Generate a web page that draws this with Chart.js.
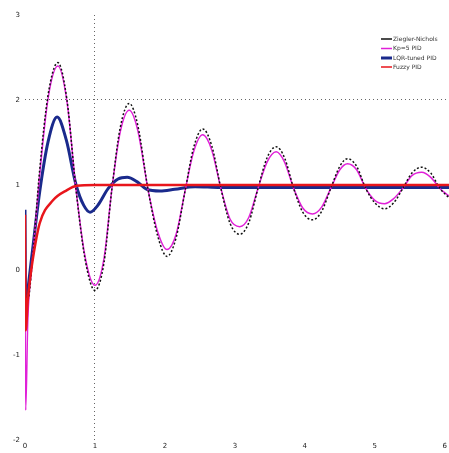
<!DOCTYPE html>
<html>
<head>
<meta charset="utf-8">
<script src="https://cdn.jsdelivr.net/npm/chart.js@4"></script>
<style>
  html, body { margin: 0; padding: 0; background: #fff; }
  #wrap { width: 449px; height: 453px; }
</style>
</head>
<body>
<div id="wrap"><canvas id="chart"></canvas></div>
<script>
// series names (legend)
const seriesNames = ['Ziegler-Nichols', 'Kp=5 PID', 'LQR-tuned PID', 'Fuzzy PID'];

// shared time base for the two oscillating responses
const oscTime = [0, 0.01, 0.04, 0.10, 0.21, 0.33, 0.47, 0.60, 0.73, 0.86, 1.00, 1.13, 1.24, 1.36, 1.49,
  1.61, 1.76, 1.90, 2.03, 2.16, 2.29, 2.41, 2.54, 2.67, 2.80, 2.93, 3.07, 3.20, 3.33, 3.46, 3.59,
  3.71, 3.84, 3.97, 4.11, 4.24, 4.37, 4.50, 4.61, 4.74, 4.87, 5.00, 5.14, 5.27, 5.40, 5.53, 5.67,
  5.80, 5.93, 6.06];

const blackValues = [-0.12, -0.30, -0.35, 0.06, 1.18, 2.06, 2.44, 2.00, 0.94, 0.12, -0.24, 0.09, 0.94, 1.67, 1.96,
  1.71, 0.94, 0.39, 0.16, 0.38, 0.94, 1.44, 1.66, 1.46, 0.96, 0.55, 0.42, 0.56, 0.96, 1.32, 1.45,
  1.32, 0.96, 0.68, 0.59, 0.69, 0.96, 1.22, 1.31, 1.22, 0.96, 0.79, 0.72, 0.79, 0.96, 1.14, 1.21,
  1.14, 0.96, 0.85];

const magentaValues = [-0.18, -1.65, -0.59, 0.06, 1.12, 2.02, 2.40, 1.98, 0.94, 0.15, -0.18, 0.14, 0.94, 1.62, 1.88,
  1.65, 0.94, 0.44, 0.24, 0.42, 0.94, 1.39, 1.59, 1.41, 0.96, 0.60, 0.51, 0.62, 0.96, 1.27, 1.39,
  1.27, 0.96, 0.73, 0.66, 0.74, 0.96, 1.18, 1.25, 1.18, 0.96, 0.82, 0.78, 0.84, 0.96, 1.11, 1.15,
  1.09, 0.96, 0.87];

const blueTime = [0, 0.01, 0.04, 0.10, 0.21, 0.33, 0.46, 0.59, 0.73, 0.84, 0.93, 1.04, 1.19, 1.33, 1.46,
  1.60, 1.74, 1.93, 2.14, 2.43, 2.79, 6.06];
const blueValues = [0.71, -0.47, -0.24, 0.18, 0.92, 1.51, 1.80, 1.53, 1.00, 0.76, 0.68, 0.76, 0.96, 1.07, 1.09,
  1.04, 0.95, 0.93, 0.95, 0.98, 0.97, 0.97];

const redTime = [0, 0.01, 0.04, 0.07, 0.11, 0.21, 0.40, 0.60, 0.74, 1.00, 6.06];
const redValues = [0.65, -0.71, -0.35, -0.12, 0.12, 0.55, 0.82, 0.94, 0.99, 1.00, 1.00];

const yTicks = [-2, -1, 0, 1, 2, 3];
const xTicks = [0, 1, 2, 3, 4, 5, 6];

function pairs(t, v) {
  return t.map((x, i) => ({ x: x, y: v[i] }));
}

const colors = ['#111111', '#e020d8', '#1a2a8c', '#e8151b'];

// legend drawn in the upper right of the plot
const cornerLegend = {
  id: 'cornerLegend',
  afterDraw(chart) {
    const ctx = chart.ctx;
    const rows = [39, 48.5, 58, 67];
    ctx.save();
    ctx.font = '6px "DejaVu Sans"';
    ctx.textBaseline = 'middle';
    chart.data.datasets.forEach((ds, i) => {
      const y = rows[i];
      ctx.strokeStyle = ds.borderColor;
      ctx.lineWidth = i === 2 ? 3 : 1.5;
      ctx.beginPath();
      ctx.moveTo(381, y);
      ctx.lineTo(392, y);
      ctx.stroke();
      ctx.fillStyle = '#333';
      ctx.fillText(ds.label, 393, y);
    });
    ctx.restore();
  }
};

new Chart(document.getElementById('chart'), {
  type: 'line',
  data: {
    datasets: [
      { label: seriesNames[0], data: pairs(oscTime, blackValues), borderColor: colors[0],
        borderWidth: 1.5, borderDash: [2, 2], order: 1 },
      { label: seriesNames[1], data: pairs(oscTime, magentaValues), borderColor: colors[1],
        borderWidth: 1.5, order: 2 },
      { label: seriesNames[2], data: pairs(blueTime, blueValues), borderColor: colors[2],
        borderWidth: 3, order: 3 },
      { label: seriesNames[3], data: pairs(redTime, redValues), borderColor: colors[3],
        borderWidth: 2.5, order: 0 }
    ]
  },
  options: {
    responsive: true,
    maintainAspectRatio: false,
    animation: false,
    layout: { padding: { top: 15, right: 0, left: 0, bottom: 0 } },
    elements: {
      point: { radius: 0 },
      line: { cubicInterpolationMode: 'monotone', fill: false }
    },
    plugins: {
      legend: { display: false },
      tooltip: { enabled: false }
    },
    scales: {
      x: {
        type: 'linear',
        min: 0,
        max: 6.06,
        afterBuildTicks: (axis) => { axis.ticks = xTicks.map(v => ({ value: v })); },
        afterFit: (axis) => { axis.height = 13; },
        border: { display: false, dash: [1, 3] },
        grid: {
          drawTicks: false,
          color: (c) => (c.tick && c.tick.value === 1 ? '#666' : 'rgba(0,0,0,0)')
        },
        ticks: {
          padding: 2,
          color: '#222',
          font: { size: 7, family: 'DejaVu Sans' },
          maxRotation: 0,
          callback: (v) => v
        }
      },
      y: {
        min: -2,
        max: 3,
        afterBuildTicks: (axis) => { axis.ticks = yTicks.map(v => ({ value: v })); },
        afterFit: (axis) => { axis.width = 25; },
        border: { display: false, dash: [1, 3] },
        grid: {
          drawTicks: false,
          color: (c) => (c.tick && c.tick.value === 2 ? '#666' : 'rgba(0,0,0,0)')
        },
        ticks: {
          padding: 5,
          color: '#222',
          font: { size: 7, family: 'DejaVu Sans' },
          callback: (v) => v
        }
      }
    }
  },
  plugins: [cornerLegend]
});
</script>
</body>
</html>
